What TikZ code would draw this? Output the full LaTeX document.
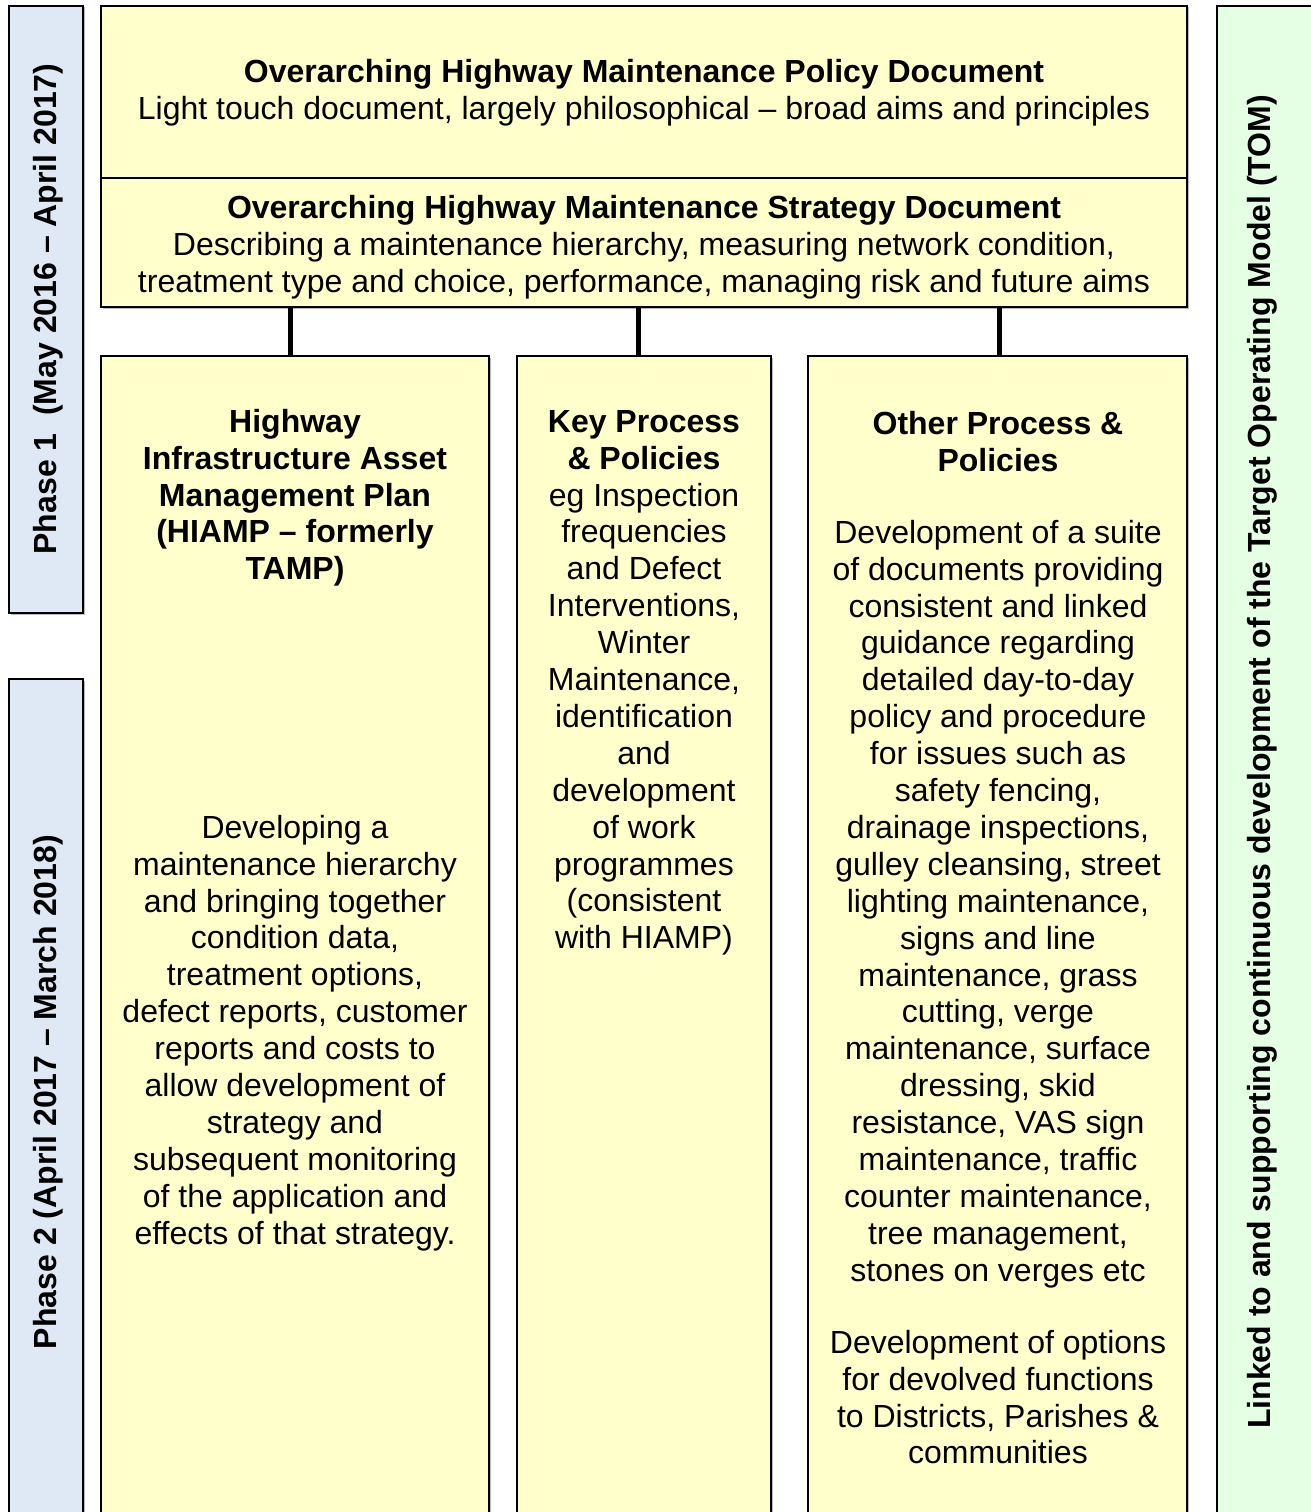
\documentclass[tikz,border=0pt]{standalone}
\usepackage{fontspec}
\setmainfont{Liberation Sans}
\usetikzlibrary{shadows}
\definecolor{ybg}{HTML}{FFFFCC}
\definecolor{bbg}{HTML}{DFE8F5}
\definecolor{gbg}{HTML}{E5FFE5}
\tikzset{
  box/.style={draw=black, line width=2pt, inner sep=0pt, anchor=center,
    drop shadow={shadow xshift=1.5pt, shadow yshift=-1.5pt, fill=gray!55, opacity=1}},
  ybox/.style={box, fill=ybg},
  bbox/.style={box, fill=bbg},
  gbox/.style={box, fill=gbg},
  conn/.style={draw=black, line width=5pt},
  txt/.style={anchor=north, inner sep=0pt, align=center,
    font={\fontsize{32}{36.9}\selectfont}},
  vtxt/.style={anchor=center, inner sep=0pt, rotate=90,
    font={\fontsize{32}{36.9}\selectfont\bfseries}}
}
\begin{document}
\begin{tikzpicture}[x=1pt, y=-1pt]
\clip (0,0) rectangle (1311,1512);
\fill[white] (0,0) rectangle (1311,1512);
% side boxes
\node[bbox, minimum width=74pt, minimum height=607pt] (ph1) at (46,309.5) {};
\node[bbox, minimum width=74pt, minimum height=851pt] (ph2) at (46,1104.5) {};
\node[gbox, minimum width=113pt, minimum height=1524pt] (tom) at (1273.5,768) {};
% top boxes
\node[ybox, minimum width=1086pt, minimum height=172pt] (policy) at (644,92) {};
\node[ybox, minimum width=1086pt, minimum height=129pt] (strategy) at (644,242.5) {};
% column boxes
\node[ybox, minimum width=388pt, minimum height=1174pt] (hiamp) at (295,943) {};
\node[ybox, minimum width=254pt, minimum height=1174pt] (key) at (644,943) {};
\node[ybox, minimum width=379pt, minimum height=1174pt] (other) at (997.5,943) {};
% connectors
\coordinate (c1) at (290,0);
\coordinate (c2) at (638,0);
\coordinate (c3) at (999,0);
\draw[conn] (strategy.south -| c1) -- (hiamp.north -| c1);
\draw[conn] (strategy.south -| c2) -- (key.north -| c2);
\draw[conn] (strategy.south -| c3) -- (other.north -| c3);
% vertical texts
\node[vtxt] (ph1t) at (48,309) {Phase 1\ \ (May 2016 – April 2017)};
\node[vtxt] (ph2t) at (48,1092) {Phase 2 (April 2017 – March 2018)};
\node[vtxt] (tomt) at (1262,762) {Linked to and supporting continuous development of the Target Operating Model (TOM)};
% texts
\node[txt] (policyt) at (644,56.2) {\strut\textbf{Overarching Highway Maintenance Policy Document}\\Light touch document, largely philosophical – broad aims and principles};
\node[txt] (strategyt) at (644,192.2) {\strut\textbf{Overarching Highway Maintenance Strategy Document}\\Describing a maintenance hierarchy, measuring network condition,\\treatment type and choice, performance, managing risk and future aims};
\node[txt, font={\fontsize{32}{36.9}\selectfont\bfseries}] (hiampt) at (295,406.2) {\strut Highway\\Infrastructure Asset\\Management Plan\\(HIAMP – formerly\\TAMP)};
\node[txt] (hiampb) at (295,812.2) {\strut Developing a\\maintenance hierarchy\\and bringing together\\condition data,\\treatment options,\\defect reports, customer\\reports and costs to\\allow development of\\strategy and\\subsequent monitoring\\of the application and\\effects of that strategy.};
\node[txt] (keyt) at (644,406.2) {\strut\textbf{Key Process}\\\textbf{\& Policies}\\eg Inspection\\frequencies\\and Defect\\Interventions,\\Winter\\Maintenance,\\identification\\and\\development\\of work\\programmes\\(consistent\\with HIAMP)};
\node[txt, font={\fontsize{32}{36.9}\selectfont\bfseries}] (othert) at (998,408.2) {\strut Other Process \&\\Policies};
\node[txt] (otherb) at (998,517.2) {\strut Development of a suite\\of documents providing\\consistent and linked\\guidance regarding\\detailed day-to-day\\policy and procedure\\for issues such as\\safety fencing,\\drainage inspections,\\gulley cleansing, street\\lighting maintenance,\\signs and line\\maintenance, grass\\cutting, verge\\maintenance, surface\\dressing, skid\\resistance, VAS sign\\maintenance, traffic\\counter maintenance,\\tree management,\\stones on verges etc};
\node[txt] (otherb2) at (998,1327.2) {\strut Development of options\\for devolved functions\\to Districts, Parishes \&\\communities};
\end{tikzpicture}
\end{document}
